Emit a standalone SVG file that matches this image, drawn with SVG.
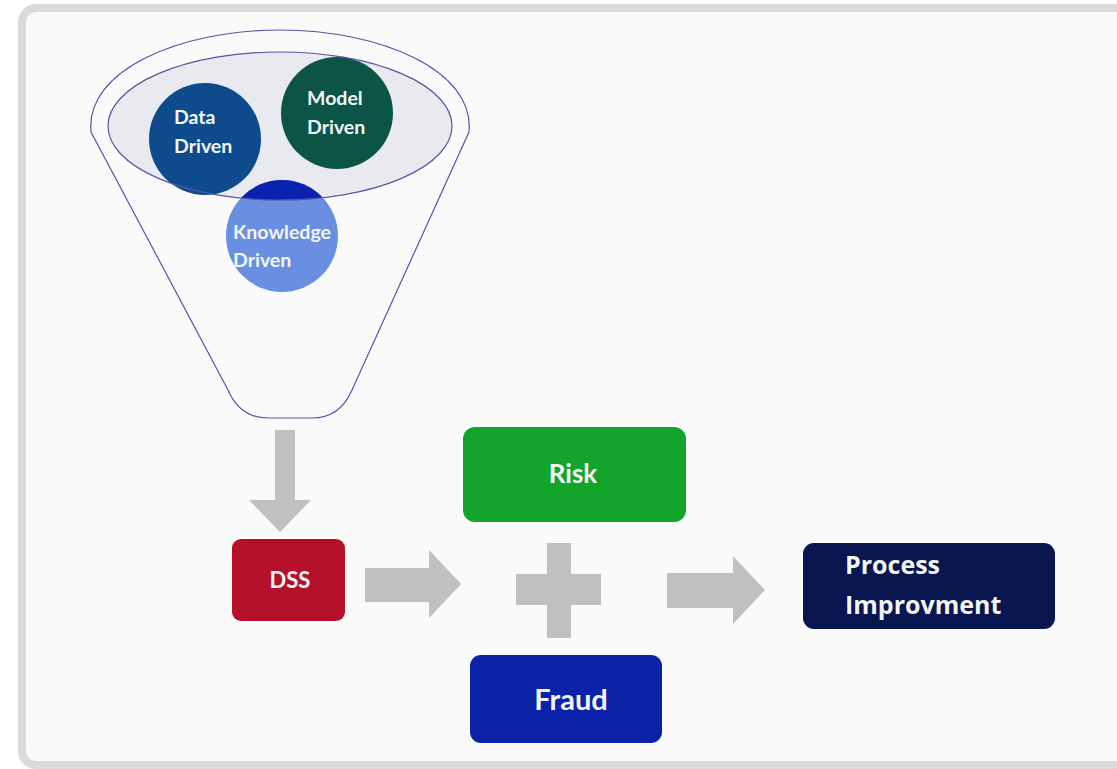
<svg xmlns="http://www.w3.org/2000/svg" width="1117" height="769" viewBox="0 0 1117 769">
<style>
.lbl{font-family:Lato,"Open Sans","Liberation Sans",sans-serif;font-weight:bold;fill:#f2f6f6}
.wide{font-family:"Open Sans","Liberation Sans",sans-serif;font-weight:bold;fill:#f4f4f0}
.arr{fill:#c0c0c0}
.line{fill:none;stroke:#5656a6;stroke-width:1.2}
</style>
<defs>
<clipPath id="ellClip"><ellipse cx="280" cy="126" rx="172" ry="74"/></clipPath>
</defs>
<rect x="0" y="0" width="1117" height="769" fill="#ffffff"/>
<rect x="22" y="8" width="1112" height="757" rx="14" fill="#fafafa" stroke="#dadada" stroke-width="8"/>
<g id="funnel">
<path class="line" d="M 91,132 C 85,70 180,30 280,30 C 380,30 475,70 469,132 L 352,390 Q 340,418 312,418 L 268,418 Q 240,418 228,390 Z" fill="#fbfbfd"/>
<ellipse cx="280" cy="126" rx="172" ry="74" fill="#e9e9f0"/>
</g>
<g id="data-driven">
<circle cx="205" cy="139" r="56" fill="#0d4b8c"/>
<text class="lbl" font-size="19.5" x="174" y="124">Data</text>
<text class="lbl" font-size="19.5" x="174" y="153">Driven</text>
</g>
<g id="model-driven">
<circle cx="337" cy="113" r="56" fill="#0b5446"/>
<text class="lbl" font-size="19.5" x="307" y="105">Model</text>
<text class="lbl" font-size="19.5" x="307" y="134">Driven</text>
</g>
<g id="knowledge-driven">
<circle cx="282" cy="236" r="56" fill="#6a8ee2"/>
<circle cx="282" cy="236" r="56" fill="#0a22b0" clip-path="url(#ellClip)"/>
<text class="lbl" font-size="19.5" x="233" y="239">Knowledge</text>
<text class="lbl" font-size="19.5" x="233" y="267">Driven</text>
</g>
<ellipse class="line" cx="280" cy="126" rx="172" ry="74"/>
<g id="connectors">
<polygon class="arr" points="275,430 295,430 295,500 311,500 280,532 249,500 275,500"/>
<polygon class="arr" points="365,568 429,568 429,550 461,584 429,618 429,602 365,602"/>
<polygon class="arr" points="547,543 571,543 571,574 601,574 601,605 571,605 571,638 547,638 547,605 516,605 516,574 547,574"/>
<polygon class="arr" points="667,573 733,573 733,556 765,590 733,624 733,608 667,608"/>
</g>
<g id="dss">
<rect x="232" y="539" width="113" height="82" rx="9" fill="#b5102a"/>
<text class="lbl" font-size="22" x="290" y="588" text-anchor="middle">DSS</text>
</g>
<g id="risk">
<rect x="463" y="427" width="223" height="95" rx="12" fill="#13a52b"/>
<text class="lbl" font-size="26" x="573" y="483" text-anchor="middle">Risk</text>
</g>
<g id="fraud">
<rect x="470" y="655" width="192" height="88" rx="11" fill="#0c22a8"/>
<text class="lbl" font-size="29" x="571" y="710" text-anchor="middle">Fraud</text>
</g>
<g id="process-improvment">
<rect x="803" y="543" width="252" height="86" rx="11" fill="#0a1650"/>
<text class="wide" font-size="25" x="845" y="574">Process</text>
<text class="wide" font-size="25" x="845" y="614">Improvment</text>
</g>
</svg>
